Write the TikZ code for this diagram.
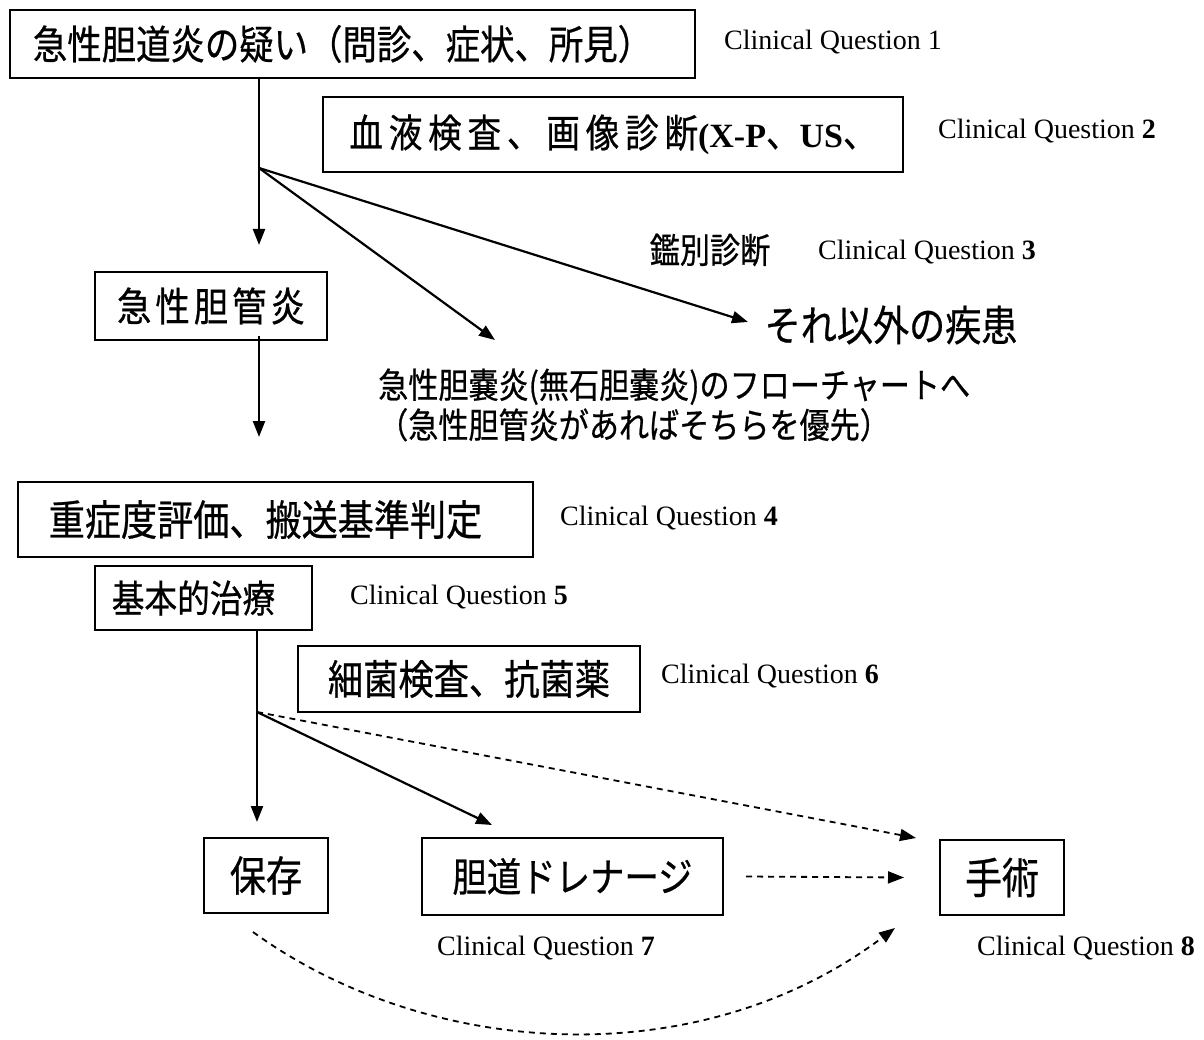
\documentclass[tikz,border=0pt]{standalone}
\usepackage{fontspec}
\setmainfont{Liberation Serif}
\newfontfamily\jp[FakeStretch=0.86,FakeBold=0.6]{Noto Sans CJK JP}
\newfontfamily\jpls[FakeStretch=0.86,FakeBold=0.6,LetterSpace=10]{Noto Sans CJK JP}
\newfontfamily\jplw[FakeStretch=0.86,FakeBold=0.6,LetterSpace=15]{Noto Sans CJK JP}
\usetikzlibrary{arrows.meta}
\newcommand\fsz[1]{\fontsize{#1}{#1}\selectfont}
\begin{document}
\begin{tikzpicture}[x=1pt,y=-1pt,
  box/.style={draw, line width=2pt, inner sep=0pt},
  cq/.style={inner sep=0pt, font=\fsz{28}},
  arr/.style={line width=2.2pt, -{Triangle[length=16pt,width=12pt]}},
  darr/.style={line width=1.8pt, dash pattern=on 6pt off 5pt, -{Triangle[length=16pt,width=12pt]}}]
\useasboundingbox[fill=white] (0,0) rectangle (1204,1040);
% boxes
\node[box, minimum width=685pt, minimum height=68pt, font={\jp\fsz{40}}] (q1) at (352.5,44) {\hspace*{-20pt}急性胆道炎の疑い（問診、症状、所見）};
\node[box, minimum width=580pt, minimum height=75pt, font={\jplw\fsz{39}}] (q2) at (613,134.5) {血液検査、画像診断{\rmfamily\bfseries\fsz{34}(X-P}、{\rmfamily\bfseries\fsz{34}US}、};
\node[box, minimum width=232pt, minimum height=68pt, font={\jpls\fsz{40}}] (q3) at (211,306) {急性胆管炎};
\node[box, minimum width=515pt, minimum height=75pt, font={\jp\fsz{42}}] (q4) at (275.5,519.5) {\hspace*{-20pt}重症度評価、搬送基準判定};
\node[box, minimum width=217pt, minimum height=64pt, font={\jp\fsz{38}}] (q5) at (203.5,598) {\hspace*{-20pt}基本的治療};
\node[box, minimum width=342pt, minimum height=66pt, font={\jp\fsz{41}}] (q6) at (469,679) {細菌検査、抗菌薬};
\node[box, minimum width=124pt, minimum height=75pt, font={\jp\fsz{42}}] (q7) at (266,875.5) {保存};
\node[box, minimum width=301pt, minimum height=77pt, font={\jp\fsz{40}}] (q8) at (572.5,876.5) {胆道ドレナージ};
\node[box, minimum width=124pt, minimum height=75pt, font={\jp\fsz{43}}] (q9) at (1002,877.5) {手術};
% plain texts
\node[inner sep=0pt, font={\jp\fsz{35}}] (kb) at (710,250) {鑑別診断};
\node[inner sep=0pt, font={\jp\fsz{42}}] (oth) at (891,325) {それ以外の疾患};
\node[inner sep=0pt, anchor=west, align=left, font={\jp\fontsize{35}{40}\selectfont}] (note) at (378,405) {急性胆嚢炎(無石胆嚢炎)のフローチャートへ\\（急性胆管炎があればそちらを優先）};
% clinical questions
\node[cq] (cq1) at (833,42) {Clinical Question 1};
\node[cq] (cq2) at (1047,131) {Clinical Question \textbf{2}};
\node[cq] (cq3) at (927,252) {Clinical Question \textbf{3}};
\node[cq] (cq4) at (669,518) {Clinical Question \textbf{4}};
\node[cq] (cq5) at (459,597) {Clinical Question \textbf{5}};
\node[cq] (cq6) at (770,676) {Clinical Question \textbf{6}};
\node[cq] (cq7) at (546,948) {Clinical Question \textbf{7}};
\node[cq] (cq8) at (1086,948) {Clinical Question \textbf{8}};
% coordinates
\coordinate (br1) at (259,168);
\coordinate (t1) at (259,245);
\coordinate (t2) at (495,340);
\coordinate (t3) at (748,322);
\coordinate (t4) at (259,437);
\coordinate (br2) at (257,712);
\coordinate (t5) at (257,822);
\coordinate (t6) at (492,825);
\coordinate (t7) at (916,838);
\coordinate (c1) at (253,932);
\coordinate (c2) at (895,928);
% connectors
\draw[arr] (q1.south -| br1) -- (t1);
\draw[arr] (br1) -- (t2);
\draw[arr] (br1) -- (t3);
\draw[arr] ([yshift=5pt]q3.south -| br1) -- (t4);
\draw[arr] (q5.south -| br2) -- (t5);
\draw[arr] (br2) -- (t6);
\draw[darr] (br2) -- (t7);
\draw[darr] ([xshift=22pt]q8.east) -- ([xshift=-35pt]q9.west);
\draw[darr] (c1) .. controls (430,1060) and (700,1075) .. (c2);
\end{tikzpicture}
\end{document}
